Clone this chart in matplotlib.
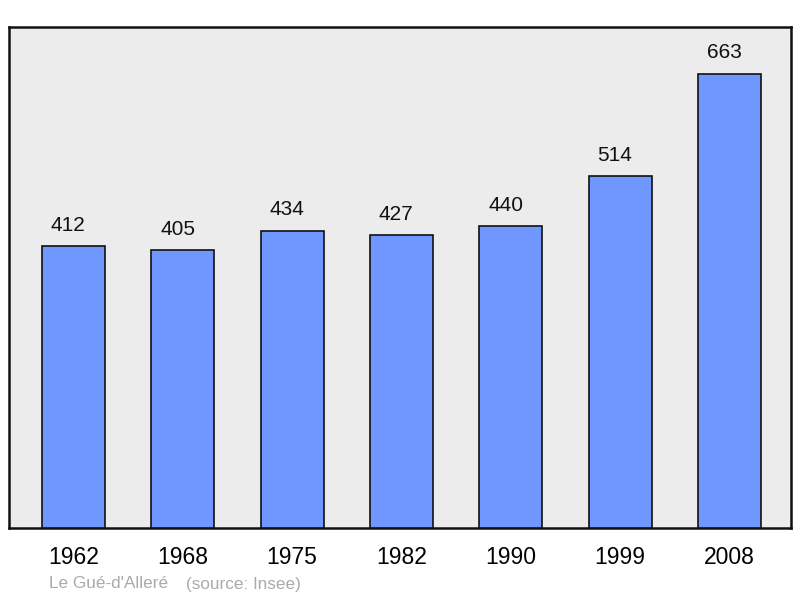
import matplotlib
matplotlib.use("Agg")
import matplotlib.pyplot as plt

years = ["1962", "1968", "1975", "1982", "1990", "1999", "2008"]
population = [412, 405, 434, 427, 440, 514, 663]

plt.rcParams['font.family'] = ['Liberation Sans', 'DejaVu Sans']

fig = plt.figure(figsize=(8, 5.98), dpi=100)
ax = fig.add_axes([9/800, 70/598, 782/800, 501/598])
ax.set_facecolor('#ececec')
x = list(range(len(years)))
ax.bar(x, population, width=0.576, color='#7096ff', edgecolor='#111111', linewidth=1.2, zorder=3)
for xi, v in zip(x, population):
    ax.annotate(str(v), (xi, v), xytext=(-3.8, 8), textcoords='offset points',
                ha='center', va='bottom', fontsize=15, color='#111111')
ax.set_xlim(-0.59, 6.563)
ax.set_ylim(0, 731)
ax.set_yticks([])
ax.set_xticks(x)
ax.set_xticklabels(years, fontsize=16.5)
ax.tick_params(axis='x', length=0, pad=13)
for s in ax.spines.values():
    s.set_linewidth(1.8)
    s.set_color('#111111')
fig.text(49/800, 1 - 584/598, "Le Gué-d'Alleré", fontsize=12.3, color='#aaaaaa', va='center', ha='left')
fig.text(186/800, 1 - 584/598, "(source: Insee)", fontsize=12.3, color='#aaaaaa', va='center', ha='left')
fig.savefig("out.png", dpi=100)
